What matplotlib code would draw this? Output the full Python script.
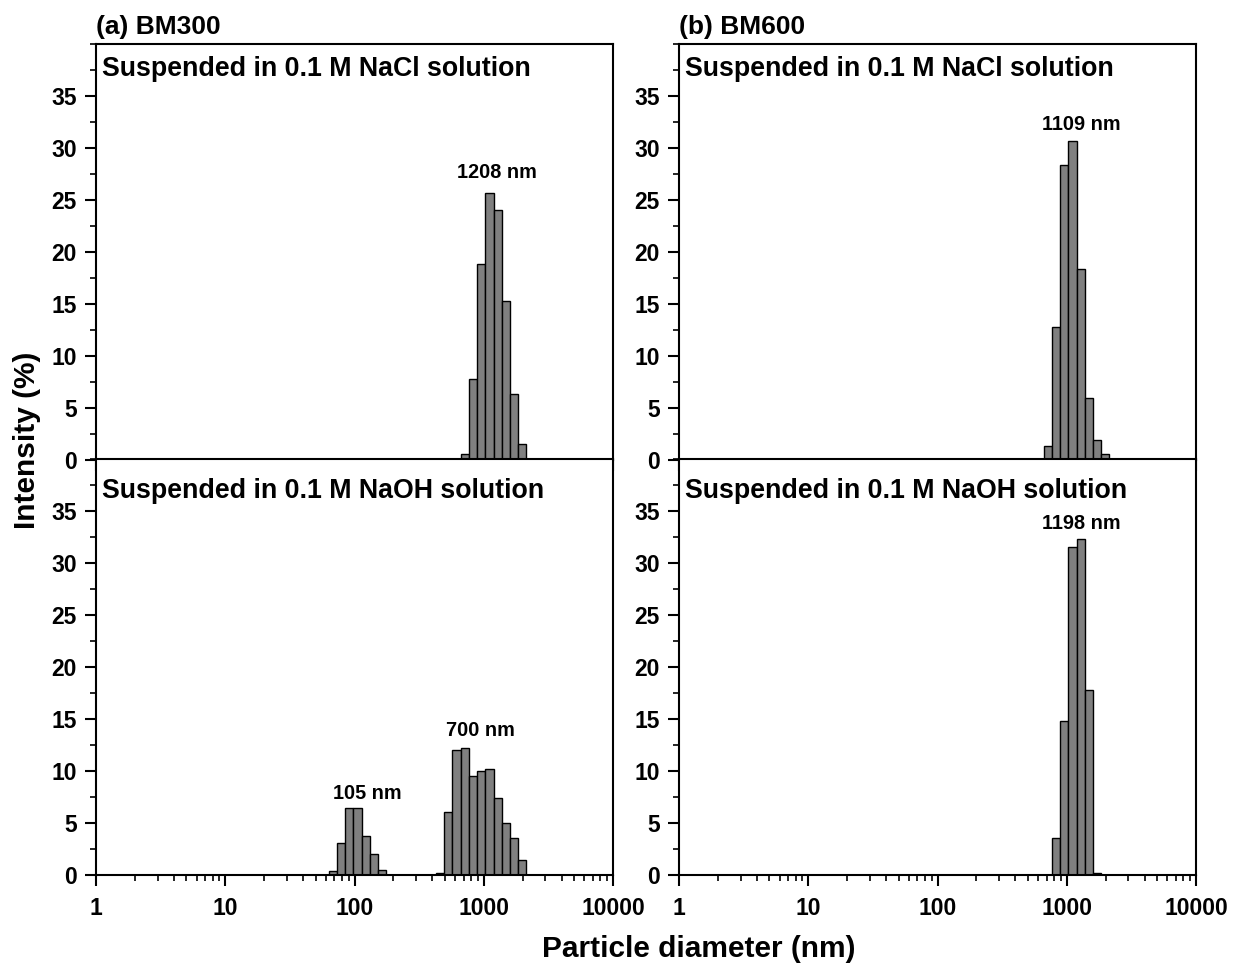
import matplotlib
matplotlib.use("Agg")
import matplotlib.pyplot as plt
from matplotlib.ticker import LogLocator, MultipleLocator, FixedLocator, NullFormatter
import numpy as np

plt.rcParams['font.family'] = ['Liberation Sans', 'DejaVu Sans']
plt.rcParams['font.weight'] = 'bold'

# size classes (nm) and intensity (%)
bm300_nacl_size = [712.4, 825.0, 955.4, 1106, 1281, 1484, 1718, 1990]
bm300_nacl_int = [0.55, 7.8, 18.8, 25.7, 24.0, 15.3, 6.3, 1.5]

bm300_naoh_size = [68.06, 78.82, 91.28, 105.7, 122.4, 141.8, 164.2,
                   458.7, 531.2, 615.1, 712.4, 825.0, 955.4, 1106, 1281, 1484, 1718, 1990]
bm300_naoh_int = [0.35, 3.05, 6.4, 6.4, 3.75, 2.05, 0.45,
                  0.2, 6.1, 12.05, 12.25, 9.5, 10.0, 10.2, 7.4, 5.0, 3.6, 1.4]

bm600_nacl_size = [712.4, 825.0, 955.4, 1106, 1281, 1484, 1718, 1990]
bm600_nacl_int = [1.3, 12.8, 28.4, 30.7, 18.4, 6.0, 1.9, 0.55]

bm600_naoh_size = [825.0, 955.4, 1106, 1281, 1484, 1718]
bm600_naoh_int = [3.6, 14.8, 31.5, 32.3, 17.8, 0.2]

titles = ['(a) BM300', '(b) BM600']
subtitles = ['Suspended in 0.1 M NaCl solution', 'Suspended in 0.1 M NaOH solution']

# peak labels: text, x, y (data coords)
labels_tl = [('1208 nm', 1265, 27.6)]
labels_bl = [('105 nm', 125, 7.8), ('700 nm', 950, 13.9)]
labels_tr = [('1109 nm', 1290, 32.3)]
labels_br = [('1198 nm', 1290, 33.8)]

ratio = (10000 / 0.4) ** (1 / 69)  # bin ratio of the size classes

fig = plt.figure(figsize=(12.34, 9.66), dpi=100)

x_left = [96 / 1234, 679 / 1234]
w = 517 / 1234
y_top = 1 - 460 / 966
y_bot = 1 - 875 / 966
h = 416 / 966

panels = [
    (0, 1, bm300_nacl_size, bm300_nacl_int, labels_tl, 0),
    (0, 0, bm300_naoh_size, bm300_naoh_int, labels_bl, 1),
    (1, 1, bm600_nacl_size, bm600_nacl_int, labels_tr, 0),
    (1, 0, bm600_naoh_size, bm600_naoh_int, labels_br, 1),
]

for col, top, sizes, vals, labs, si in panels:
    y0 = y_top if top else y_bot
    ax = fig.add_axes([x_left[col], y0, w, h])
    c = np.array(sizes, dtype=float)
    lo = c / np.sqrt(ratio)
    hi = c * np.sqrt(ratio)
    ax.bar(lo, vals, width=hi - lo, align='edge', color='#808080',
           edgecolor='black', linewidth=1.0)
    ax.set_xscale('log')
    ax.set_xlim(1, 10000)
    ax.set_ylim(0, 40)
    ax.xaxis.set_major_locator(FixedLocator([1, 10, 100, 1000, 10000]))
    ax.xaxis.set_minor_locator(LogLocator(base=10, subs=np.arange(2, 10), numticks=20))
    ax.xaxis.set_minor_formatter(NullFormatter())
    ax.set_xticklabels(['1', '10', '100', '1000', '10000'])
    ax.yaxis.set_major_locator(FixedLocator([0, 5, 10, 15, 20, 25, 30, 35]))
    ax.yaxis.set_minor_locator(MultipleLocator(2.5))
    ax.tick_params(which='major', direction='out', length=8, width=1.5,
                   labelsize=16.5)
    ax.tick_params(which='minor', direction='out', length=4, width=1.2)
    ax.tick_params(axis='x', which='major', pad=8)
    ax.tick_params(axis='y', which='major', pad=6)
    ax.tick_params(top=False, right=False)
    if top:
        ax.tick_params(axis='x', labelbottom=False)
    for sp in ax.spines.values():
        sp.set_linewidth(1.5)
    for t in ax.get_xticklabels() + ax.get_yticklabels():
        t.set_fontweight('bold')
    ty = 0.97 if top else 0.955
    ax.text(0.012, ty, subtitles[si], transform=ax.transAxes, ha='left', va='top',
            fontsize=19.3, fontweight='bold')
    for txt, xx, yy in labs:
        ax.text(xx, yy, txt, ha='center', va='center', fontsize=14.3, fontweight='bold')
    if top:
        ax.text(0.0, 1.012, titles[col], transform=ax.transAxes, ha='left', va='bottom',
                fontsize=19, fontweight='bold')

fig.text(0.566, 1 - 949 / 966, 'Particle diameter (nm)', ha='center', va='center',
         fontsize=21.5, fontweight='bold')
fig.text(27 / 1234, 1 - 440 / 966, 'Intensity (%)', ha='center', va='center',
         rotation=90, fontsize=21.5, fontweight='bold')

fig.savefig('out.png', dpi=100)
